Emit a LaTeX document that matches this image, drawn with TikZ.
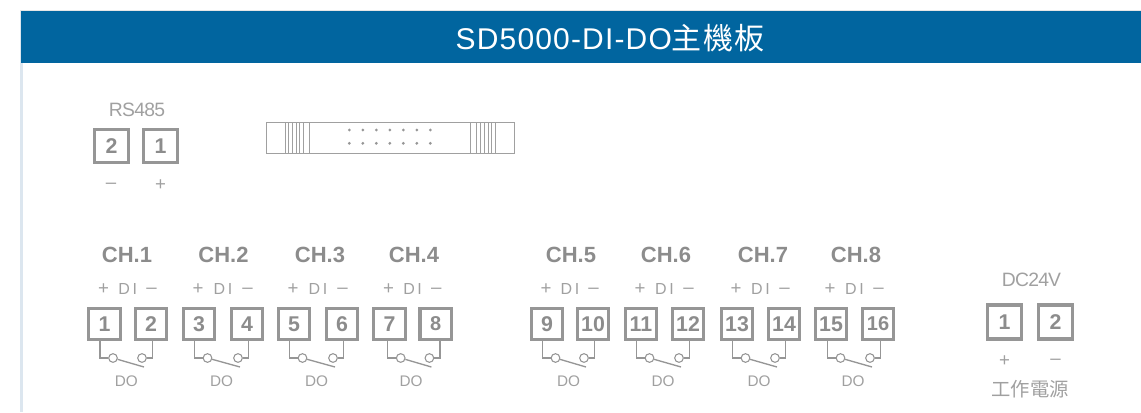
\documentclass[tikz,border=0pt]{standalone}
\usepackage{fontspec}
\setmainfont{Liberation Sans}
\newfontfamily\cjk{Noto Sans CJK TC}
\newfontfamily\titlefont[LetterSpace=3.9]{Liberation Sans}
\newfontfamily\titlecjk[LetterSpace=3.9]{Noto Sans CJK TC}
\definecolor{bandblue}{HTML}{01659F}
\definecolor{edgeblue}{HTML}{DCE6EF}
\definecolor{edgegrey}{HTML}{E6E6E6}
\definecolor{inkgrey}{HTML}{8C8C8C}
\definecolor{boxgrey}{HTML}{969696}
\definecolor{labelgrey}{HTML}{A0A0A0}
\tikzset{
  term/.style={draw=boxgrey,line width=2.4pt,inner sep=0pt,minimum width=23.5pt,minimum height=23.5pt,text=inkgrey,font=\fontsize{16}{16}\selectfont\bfseries},
  termsmall/.style={font=\fontsize{15}{15}\selectfont\bfseries},
  termnormal/.style={},
  chlabel/.style={text=inkgrey,font=\fontsize{16.5}{16.5}\selectfont\bfseries,inner sep=0pt},
  pinlabel/.style={text=labelgrey,font=\fontsize{14}{14}\selectfont,inner sep=0pt},
  dolabel/.style={text=labelgrey,font=\fontsize{11.5}{11.5}\selectfont,inner sep=0pt},
  headlabel/.style={text=labelgrey,font=\fontsize{14.5}{14.5}\selectfont,inner sep=0pt},
  wire/.style={draw=boxgrey,line width=1pt},
  contact/.style={circle,draw=boxgrey,line width=0.8pt,fill=white,inner sep=0pt,minimum size=6.5pt},
  strip/.style={draw=labelgrey,line width=0.65pt},
  pindot/.style={circle,fill=boxgrey,inner sep=0pt,minimum size=2.3pt},
}
\newcommand{\chgroup}[9]{% left cx, right cx, n1, n2, ch text, ch x, id, style of second terminal, switch shift
  \node[term] (t#3) at (#1,324) {#3};
  \node[term,#8] (t#4) at (#2,324) {#4};
  \node[chlabel] (ch#7) at (#6,254.5) {#5};
  \node[pinlabel] (p#7) at (#1-1,289.5) {+};
  \node[pinlabel] (m#7) at (#2+0.5,290.5) {--};
  \node[pinlabel,font=\fontsize{12}{12}\selectfont] (d#7) at ({(#1+#2)/2},289) {D\,I};
  \node[dolabel] (do#7) at ({(#1+#2)/2-1.5},381) {DO};
  \node[contact] (ca#7) at (#1+8.5+#9,358) {};
  \node[contact] (cb#7) at (#2-9+#9,358) {};
  \coordinate (sw#7) at (#2-7+#9,367);
  \draw[wire] (t#3.south)++(-4.5+#9,0) |- (ca#7.west);
  \draw[wire] (t#4.south)++(1.7+#9,0) |- (cb#7.east);
  \draw[wire] (ca#7) -- (sw#7);
}
\begin{document}
\begin{tikzpicture}[x=0.75pt,y=-0.75pt]
\useasboundingbox (0,0) rectangle (1141,412);
\fill[edgegrey] (20,10) rectangle (1141,12);
\fill[edgeblue] (20,12) rectangle (23,412);
\fill[bandblue] (21,11) rectangle (1141,63);
\node[text=white,inner sep=0pt,font=\fontsize{22.5}{22.5}\selectfont] (title) at (610,38.5) {\titlefont SD5000-DI-DO\titlecjk 主機板};

% RS485
\node[headlabel] (rs) at (137,110) {\addfontfeature{LetterSpace=-4}RS485};
\node[term,minimum width=25pt,minimum height=25pt] (rs2) at (111.5,146) {2};
\node[term,minimum width=25pt,minimum height=25pt] (rs1) at (160.5,146) {1};
\node[pinlabel] (rsm) at (111,186) {--};
\node[pinlabel] (rsp) at (160.5,185) {+};

% Connector strip
\draw[strip] (266,122) rectangle (514,153);
\foreach \x in {285,288.5,292,296,299.5,303,309}{\draw[strip] (\x,122) -- (\x,153);}
\foreach \x in {470.7,476.7,480,484,488,491.5,495}{\draw[strip] (\x,122) -- (\x,153);}
\foreach \x in {349.3,362.8,...,432}{
  \node[pindot] at (\x,130) {};
  \node[pindot] at (\x,143.3) {};
}

% Channels
\chgroup{104.5}{151}{1}{2}{CH.1}{127}{a}{termnormal}{0}
\chgroup{199}{247}{3}{4}{CH.2}{223.5}{b}{termnormal}{0}
\chgroup{294}{342}{5}{6}{CH.3}{320}{c}{termnormal}{0}
\chgroup{389.5}{435.7}{7}{8}{CH.4}{414}{d}{termsmall}{2.7}
\chgroup{547}{593}{9}{10}{CH.5}{571}{e}{termnormal}{0}
\chgroup{641}{688}{11}{12}{CH.6}{666}{f}{termnormal}{0}
\chgroup{737}{784}{13}{14}{CH.7}{763}{g}{termnormal}{0}
\chgroup{831}{878}{15}{16}{CH.8}{856}{h}{termsmall}{1}

% DC24V
\node[headlabel] (dc) at (1031.5,279.5) {\addfontfeature{LetterSpace=-4}DC24V};
\node[term,minimum width=25.5pt,minimum height=25.5pt] (dc1) at (1004.5,322) {1};
\node[term,minimum width=25.5pt,minimum height=25.5pt] (dc2) at (1055.5,322) {2};
\node[pinlabel] (dcp) at (1004.5,361) {+};
\node[pinlabel] (dcm) at (1055.5,362) {--};
\node[text=labelgrey,inner sep=0pt,font=\fontsize{14.5}{14.5}\selectfont] (pw) at (1030,389) {\cjk 工作電源};
\end{tikzpicture}
\end{document}
